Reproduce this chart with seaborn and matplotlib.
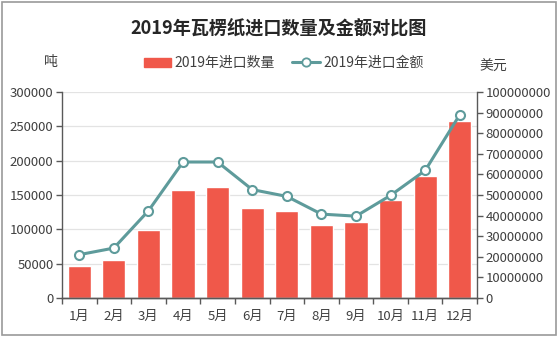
import matplotlib
matplotlib.use("Agg")
import matplotlib.pyplot as plt
from matplotlib.patches import Rectangle, Patch
from matplotlib.lines import Line2D
import seaborn as sns
import pandas as pd

months = ["1月", "2月", "3月", "4月", "5月", "6月", "7月", "8月", "9月", "10月", "11月", "12月"]
quantity_tons = [47000, 55000, 99000, 157000, 161000, 131000, 126000, 106500, 110000, 143000, 177000, 258000]
amount_usd = [21000000, 24200000, 42300000, 66000000, 66000000, 52600000, 49300000, 40700000, 39700000, 49800000, 61900000, 89000000]
left_ticks = [0, 50000, 100000, 150000, 200000, 250000, 300000]
right_ticks = [0, 10000000, 20000000, 30000000, 40000000, 50000000, 60000000, 70000000, 80000000, 90000000, 100000000]

title = "2019年瓦楞纸进口数量及金额对比图"
bar_label = "2019年进口数量"
line_label = "2019年进口金额"

BAR_COLOR = "#F0584A"
LINE_COLOR = "#5E9B9B"
AXIS_COLOR = "#595959"
TEXT_COLOR = "#404040"

sns.set_theme(style="white")
plt.rcParams["font.family"] = ["Noto Sans CJK SC", "DejaVu Sans"]

df = pd.DataFrame({"month": months, "qty": quantity_tons, "amt": amount_usd})

fig = plt.figure(figsize=(5.58, 3.37), dpi=100)
ax = fig.add_axes([0.111, 0.116, 0.744, 0.611])

sns.barplot(data=df, x="month", y="qty", color=BAR_COLOR, saturation=1,
            width=0.67, ax=ax, zorder=2)
ax.set_ylim(0, 300000)
ax.set_yticks(left_ticks)
ax.set_yticklabels([str(v) for v in left_ticks])
ax.yaxis.grid(True, color="#E3E3E3", linewidth=0.9, zorder=0)
ax.set_axisbelow(True)

ax2 = ax.twinx()
sns.pointplot(data=df, x="month", y="amt", color=LINE_COLOR, ax=ax2,
              markers="o", linewidth=2.2, markersize=6.5,
              markerfacecolor="white", markeredgecolor=LINE_COLOR,
              markeredgewidth=1.5)
ax2.set_ylim(0, 100000000)
ax2.set_yticks(right_ticks)
ax2.set_yticklabels([str(v) for v in right_ticks])

for a in (ax, ax2):
    a.set_xlim(-0.5, len(months) - 0.5)
    a.set_xlabel("")
    a.set_ylabel("")
    a.spines["top"].set_visible(False)
    for side in ("left", "right", "bottom"):
        a.spines[side].set_color(AXIS_COLOR)
        a.spines[side].set_linewidth(1.0)
ax2.spines["left"].set_visible(False)
ax.spines["right"].set_visible(False)

ax.tick_params(axis="y", which="both", left=True, length=4, width=1,
               color=AXIS_COLOR, labelsize=9.5, labelcolor=TEXT_COLOR, pad=2)
ax2.tick_params(axis="y", which="both", right=True, length=4, width=1,
                color=AXIS_COLOR, labelsize=9.5, labelcolor=TEXT_COLOR, pad=2)
ax.tick_params(axis="x", bottom=False, labelsize=9.5, labelcolor=TEXT_COLOR, pad=3)

# category separators on the bottom axis
ax.set_xticks([i + 0.5 for i in range(-1, len(months))], minor=True)
ax.tick_params(axis="x", which="minor", bottom=True, length=4, width=1, color=AXIS_COLOR)

fig.text(0.5, 0.917, title, ha="center", va="center", fontsize=13.1,
         fontweight="bold", color="#262626")
fig.text(0.091, 0.816, "吨", ha="center", va="center", fontsize=10, color=TEXT_COLOR)
fig.text(0.884, 0.801, "美元", ha="center", va="center", fontsize=10, color=TEXT_COLOR)

handles = [
    Patch(facecolor=BAR_COLOR, edgecolor=BAR_COLOR),
    Line2D([], [], color=LINE_COLOR, linewidth=2.2, marker="o", markersize=6,
           markerfacecolor="white", markeredgecolor=LINE_COLOR, markeredgewidth=1.3),
]
fig.legend(handles, [bar_label, line_label], loc="center", bbox_to_anchor=(0.508, 0.813),
           ncol=2, frameon=False, fontsize=10, handlelength=2.0, handleheight=0.6,
           columnspacing=1.3, handletextpad=0.2, labelcolor=TEXT_COLOR)

fig.add_artist(Rectangle((0.004, 0.006), 0.992, 0.988, transform=fig.transFigure,
                         fill=False, edgecolor="#9A9A9A", linewidth=1.2))

fig.savefig("out.png", dpi=100, facecolor="white")
